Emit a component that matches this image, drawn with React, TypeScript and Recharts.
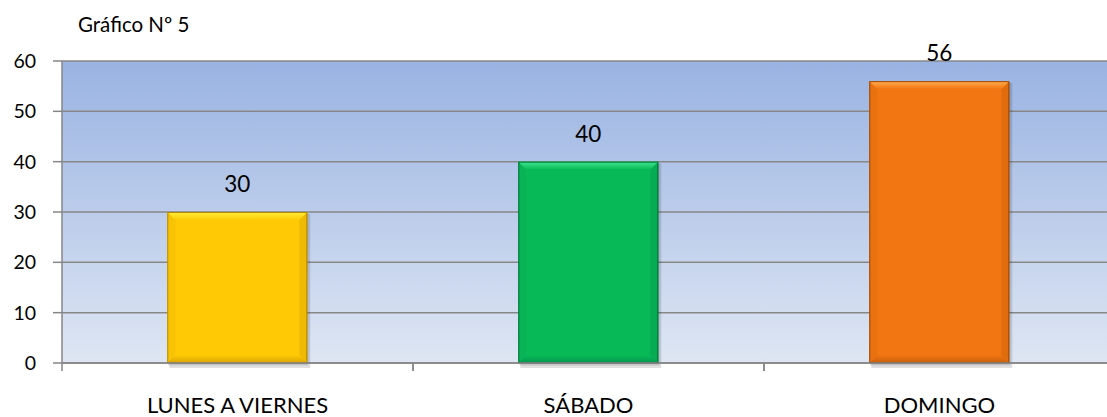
import React from "react";
import { BarChart, Bar, XAxis, YAxis, CartesianGrid, LabelList, Cell } from "recharts";

const categories = ["LUNES A VIERNES", "SÁBADO", "DOMINGO"];
const values = [30, 40, 56];
const yTicks = [0, 10, 20, 30, 40, 50, 60];
const title = "Gráfico Nº 5";
const barColors = [
  { main: "#FFCA05", light: "#FFF03C", dark: "#C99400", edge: "#B58600" },
  { main: "#08BA57", light: "#40E68E", dark: "#05884A", edge: "#046E3A" },
  { main: "#F27612", light: "#FFAE50", dark: "#B85507", edge: "#9A4606" },
];

const data = categories.map((c, i) => ({ name: c, value: values[i] }));

const FONT = "Lato, 'Open Sans', sans-serif";

const BevelBar = (props: any) => {
  const { x, y, width: w, height: h, index } = props;
  if (!w || !h) return null;
  const c = barColors[index];
  const b = 8;
  const tg = `topg${index}`;
  const bg = `botg${index}`;
  return (
    <g>
      <defs>
        <linearGradient id={tg} x1="0" y1="0" x2="0" y2="1">
          <stop offset="0%" stopColor={c.light} />
          <stop offset="100%" stopColor={c.main} />
        </linearGradient>
        <linearGradient id={bg} x1="0" y1="0" x2="0" y2="1">
          <stop offset="0%" stopColor={c.main} />
          <stop offset="100%" stopColor={c.dark} />
        </linearGradient>
      </defs>
      <rect x={x + 2} y={y + 2} width={w + 1} height={h + 3} fill="#000" opacity={0.12} />
      <rect x={x + 1} y={y + 1} width={w} height={h + 1.5} fill="#000" opacity={0.12} />
      <rect x={x} y={y} width={w} height={h} fill={c.main} />
      <polygon points={`${x},${y} ${x + w},${y} ${x + w - b},${y + b} ${x + b},${y + b}`} fill={`url(#${tg})`} />
      <polygon points={`${x},${y} ${x + b},${y + b} ${x + b},${y + h - b} ${x},${y + h}`} fill={c.dark} opacity={0.12} />
      <polygon points={`${x + w},${y} ${x + w},${y + h} ${x + w - b},${y + h - b} ${x + w - b},${y + b}`} fill={c.dark} opacity={0.3} />
      <polygon points={`${x},${y + h} ${x + w},${y + h} ${x + w - b},${y + h - b} ${x + b},${y + h - b}`} fill={`url(#${bg})`} opacity={0.7} />
      <rect x={x + 0.5} y={y + 0.5} width={w - 1} height={h - 1} fill="none" stroke={c.edge} strokeWidth={1} />
    </g>
  );
};

const CatTick = (props: any) => {
  const { x, y, payload, width, visibleTicksCount } = props;
  const half = width / visibleTicksCount / 2;
  return (
    <g>
      <line x1={x - half} y1={y} x2={x - half} y2={y + 8} stroke="#868686" strokeWidth={1.5} />
      <line x1={x + half} y1={y} x2={x + half} y2={y + 8} stroke="#868686" strokeWidth={1.5} />
      <text x={x} y={y + 50} textAnchor="middle" fontSize={22} fontFamily={FONT} fill="#000">
        {payload.value}
      </text>
    </g>
  );
};

export default function App() {
  return (
    <div style={{ position: "absolute", left: 0, top: 0, width: 1107, height: 417, overflow: "hidden", background: "#fff" }}>
      <svg width={0} height={0} style={{ position: "absolute" }}>
        <defs>
          <linearGradient id="bgGrad" x1="0" y1="0" x2="0" y2="1">
            <stop offset="0%" stopColor="#99B3E2" />
            <stop offset="100%" stopColor="#DEE6F3" />
          </linearGradient>
        </defs>
      </svg>
      <svg width={300} height={40} style={{ position: "absolute", left: 0, top: 0 }}>
        <text x={78} y={31.5} fontSize={20.5} fontFamily={FONT} fill="#000">{title}</text>
      </svg>
      <BarChart
        width={1115}
        height={417}
        data={data}
        margin={{ top: 61, right: 0, bottom: 0, left: 0 }}
        barCategoryGap="30%"
      >
        <CartesianGrid vertical={false} stroke="#878787" strokeWidth={1.5} fill="url(#bgGrad)" fillOpacity={1} />
        <XAxis
          dataKey="name"
          height={54}
          tickLine={false}
          tickSize={0}
          tickMargin={0}
          axisLine={{ stroke: "#868686", strokeWidth: 1.5 }}
          tick={<CatTick />}
          interval={0}
        />
        <YAxis
          width={62}
          domain={[0, 60]}
          ticks={yTicks}
          interval={0}
          tickSize={9}
          tickMargin={17}
          axisLine={{ stroke: "#868686", strokeWidth: 1.5 }}
          tickLine={{ stroke: "#868686", strokeWidth: 1.5 }}
          tick={{ fontSize: 19.5, fontFamily: FONT, fill: "#000" }}
        />
        <Bar dataKey="value" isAnimationActive={false} shape={<BevelBar />}>
          {data.map((d, i) => (
            <Cell key={d.name} fill={barColors[i].main} />
          ))}
          <LabelList dataKey="value" position="top" offset={20} fontSize={22.5} fontFamily={FONT} fill="#000" />
        </Bar>
      </BarChart>
    </div>
  );
}
